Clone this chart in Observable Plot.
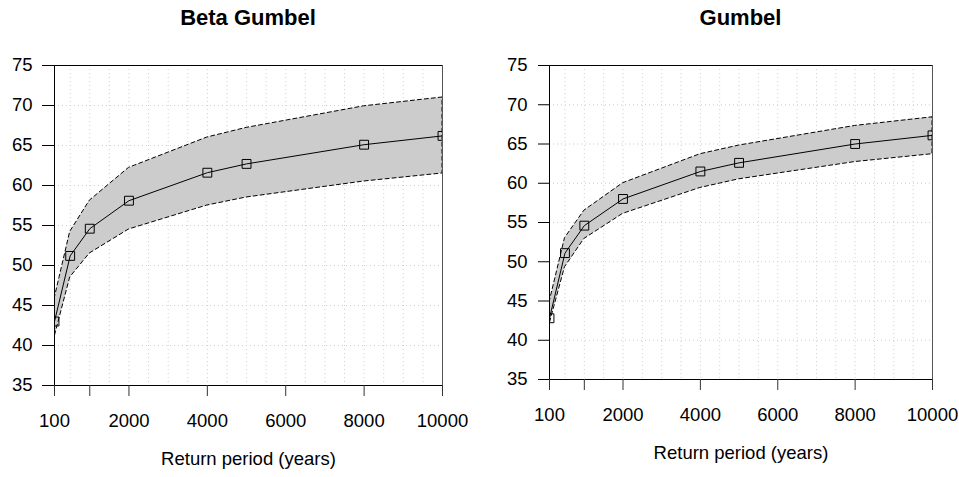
<!DOCTYPE html>
<html><head><meta charset="utf-8">
<script src="https://cdn.jsdelivr.net/npm/d3@7"></script>
<script src="https://cdn.jsdelivr.net/npm/@observablehq/plot@0.6"></script>
<style>
body{margin:0;background:#fff;font-family:"Liberation Sans",Arial,Helvetica,sans-serif;}
#wrap{position:relative;width:959px;height:477px;overflow:hidden;background:#fff;}
.panel{position:absolute;top:0;height:477px;}
.title{position:absolute;top:7px;font-weight:bold;font-size:22px;line-height:22px;text-align:center;color:#000;white-space:nowrap;}
.chart{position:absolute;top:40px;left:0;}
</style></head><body>
<div id="wrap"></div>
<script>
// ---- data ----
const returnPeriods = [100, 500, 1000, 2000, 4000, 5000, 8000, 10000];
const betaMean  = [43.0, 51.2, 54.6, 58.1, 61.6, 62.7, 65.1, 66.2];
const betaLower = [41.0, 48.5, 51.5, 54.5, 57.5, 58.5, 60.5, 61.5];
const betaUpper = [45.8, 54.2, 58.1, 62.2, 66.0, 67.2, 69.9, 71.0];
const gumbelMean  = [42.8, 51.1, 54.6, 58.0, 61.5, 62.6, 65.0, 66.1];
const gumbelLower = [42.0, 49.3, 52.9, 56.1, 59.4, 60.5, 62.7, 63.7];
const gumbelUpper = [44.8, 53.0, 56.5, 60.0, 63.7, 64.8, 67.3, 68.4];
const xTicks = [100, 1000, 2000, 4000, 6000, 8000, 10000];
const xTickLabels = ["100", "", "2000", "4000", "6000", "8000", "10000"];
const yTicks = [35, 40, 45, 50, 55, 60, 65, 70, 75];
const xGrid = [500,1000,1500,2000,2500,3000,3500,4000,4500,5000,5500,6000,6500,7000,7500,8000,8500,9000,9500];
const yGrid = [40, 45, 50, 55, 60, 65, 70];
const titles = ["Beta Gumbel", "Gumbel"];
const xLabel = "Return period (years)";

const FONT = '"Liberation Sans", Arial, Helvetica, sans-serif';

function makePanel(cfg) {
  const data = returnPeriods.map((x, i) => ({x, mean: cfg.mean[i], lo: cfg.lower[i], hi: cfg.upper[i]}));
  const panel = document.createElement("div");
  panel.className = "panel";
  panel.style.left = cfg.left + "px";
  panel.style.width = cfg.width + "px";
  const t = document.createElement("div");
  t.className = "title";
  t.style.left = cfg.marginLeft + "px";
  t.style.width = (cfg.width - cfg.marginLeft - cfg.marginRight) + "px";
  t.textContent = cfg.title;
  panel.appendChild(t);
  const svg = Plot.plot({
    width: cfg.width,
    height: 437,
    marginTop: 25,
    marginBottom: cfg.marginBottom,
    marginLeft: cfg.marginLeft,
    marginRight: cfg.marginRight,
    style: {fontFamily: FONT, fontSize: "18.5px", color: "black", background: "white", overflow: "visible"},
    x: {type: "linear", domain: [100, 10000], label: null},
    y: {domain: [35, 75], label: null},
    marks: [
      Plot.ruleX(xGrid, {stroke: "#d0d0d0", strokeDasharray: "1,3", strokeWidth: 1}),
      Plot.ruleY(yGrid, {stroke: "#d0d0d0", strokeDasharray: "1,3", strokeWidth: 1}),
      Plot.areaY(data, {x: "x", y1: "lo", y2: "hi", fill: "#cccccc", fillOpacity: 1, stroke: "black", strokeDasharray: "4,3", strokeWidth: 1, clip: true}),
      Plot.line(data, {x: "x", y: "mean", stroke: "black", strokeWidth: 1, clip: true}),
      Plot.dot(data, {x: "x", y: "mean", symbol: "square", r: 5, stroke: "black", strokeWidth: 1, fill: "none", clip: true}),
      Plot.ruleY([75], {stroke: "black"}),
      Plot.ruleY([35], {stroke: "black"}),
      Plot.ruleX([100], {stroke: "black"}),
      Plot.ruleX([10000], {stroke: "#555"}),
      Plot.axisX(xTicks, {tickSize: 11, tickPadding: cfg.xPad, tickFormat: (d) => xTickLabels[xTicks.indexOf(d)], stroke: "#333", fill: "black", label: null}),
      Plot.axisY(yTicks, {tickSize: cfg.yTick, tickPadding: cfg.yPad, stroke: "black", fill: "black", label: null}),
      Plot.text([xLabel], {frameAnchor: "bottom", dy: cfg.labelDy, fontSize: 18.5, fill: "black"})
    ]
  });
  svg.classList.add("chart");
  panel.appendChild(svg);
  document.getElementById("wrap").appendChild(panel);
}

makePanel({title: titles[0], mean: betaMean, lower: betaLower, upper: betaUpper,
  left: 0, width: 480, marginLeft: 54, marginRight: 38, marginBottom: 92,
  xPad: 17, yTick: 12, yPad: 10, labelDy: 79});
makePanel({title: titles[1], mean: gumbelMean, lower: gumbelLower, upper: gumbelUpper,
  left: 480, width: 479, marginLeft: 69, marginRight: 27, marginBottom: 98,
  xPad: 17, yTick: 11, yPad: 11, labelDy: 79});
</script>
</body></html>
